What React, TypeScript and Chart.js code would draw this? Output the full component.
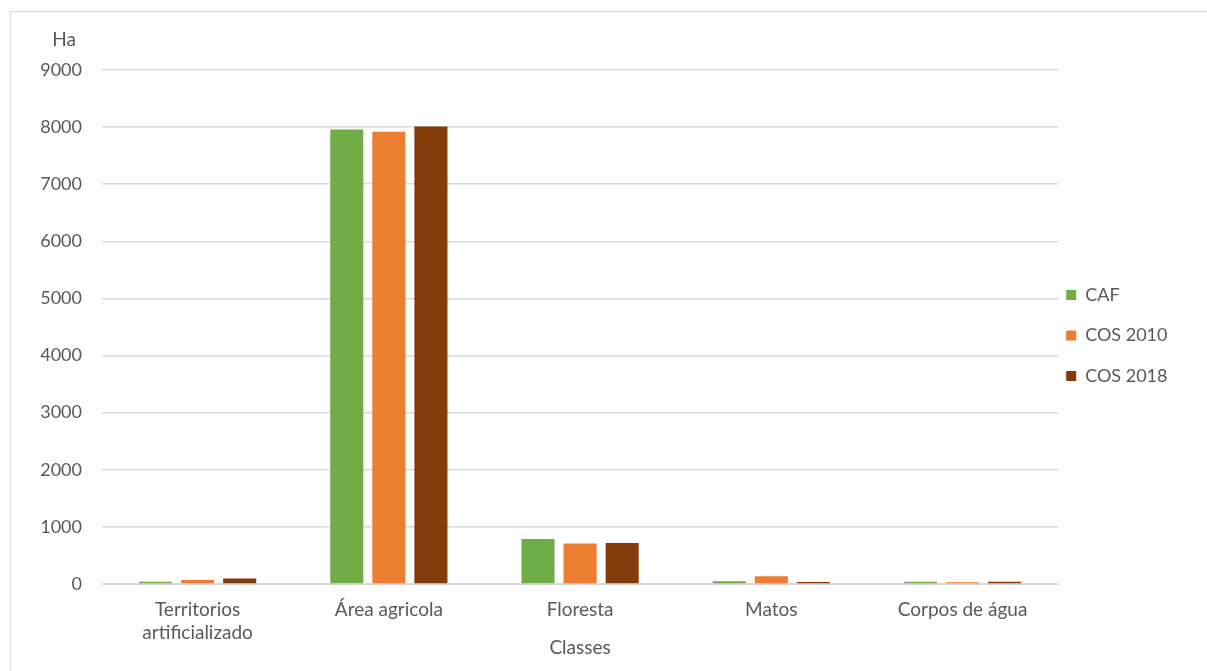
import React, { useEffect, useRef } from "react";
import { Chart, registerables } from "chart.js";

Chart.register(...registerables);

// Land-cover classes and areas (ha) by source
const categories: (string | string[])[] = [
  ["Territorios", "artificializado"],
  "Área agricola",
  "Floresta",
  "Matos",
  "Corpos de água",
];
const cafValues = [40, 7960, 790, 50, 40];
const cos2010Values = [70, 7920, 710, 135, 30];
const cos2018Values = [95, 8010, 720, 35, 40];
const seriesNames = ["CAF", "COS 2010", "COS 2018"];
const seriesColors = ["#70AD47", "#ED7D31", "#843C0C"];
const yTicks = [0, 1000, 2000, 3000, 4000, 5000, 6000, 7000, 8000, 9000];
const yUnit = "Ha";
const xTitle = "Classes";

const FONT = "Lato, 'Open Sans', sans-serif";
const FONT_SIZE = 18;
const LABEL_SIZE = 19;
const TEXT = "#595959";
const GRID = "#d9d9d9";
const LEGEND_PAD = 22.5;

// Writes the unit label above the value axis
const unitLabel = {
  id: "unitLabel",
  afterDraw(chart: any) {
    const y = chart.scales.y;
    const ctx = chart.ctx;
    ctx.save();
    ctx.font = `${LABEL_SIZE}px ${FONT}`;
    ctx.fillStyle = TEXT;
    ctx.textAlign = "center";
    ctx.textBaseline = "middle";
    ctx.fillText(yUnit, 54, y.getPixelForValue(yTicks[yTicks.length - 1]) - 30);
    ctx.restore();
  },
};

// Places the legend column close to the plot, a little above its middle
const legendPlacement = {
  id: "legendPlacement",
  afterLayout(chart: any) {
    const lg = chart.legend;
    if (!lg) return;
    const w = lg.width;
    const h = lg.height;
    lg.left = chart.chartArea.right + 8 - LEGEND_PAD;
    lg.right = lg.left + w;
    lg.top = 252.5;
    lg.bottom = lg.top + h;
  },
};

export default function App() {
  const canvasRef = useRef<HTMLCanvasElement | null>(null);

  useEffect(() => {
    if (!canvasRef.current) return;
    const font = { family: FONT, size: FONT_SIZE, lineHeight: 1.28 };
    const labelFont = { family: FONT, size: LABEL_SIZE, lineHeight: 23 / LABEL_SIZE };
    const chart = new Chart(canvasRef.current, {
      type: "bar",
      data: {
        labels: categories,
        datasets: [cafValues, cos2010Values, cos2018Values].map((d, i) => ({
          label: seriesNames[i],
          data: d,
          backgroundColor: seriesColors[i],
          borderWidth: 0,
          categoryPercentage: 0.66,
          barPercentage: 0.786,
        })),
      },
      options: {
        animation: false,
        responsive: false,
        maintainAspectRatio: false,
        layout: { padding: { top: 59, right: 15, bottom: 12, left: 0 } },
        plugins: {
          tooltip: { enabled: false },
          legend: {
            position: "right",
            align: "start",
            labels: {
              boxWidth: 10,
              boxHeight: 10,
              padding: LEGEND_PAD,
              color: TEXT,
              font,
            },
          },
        },
        scales: {
          x: {
            grid: { display: false, drawTicks: false },
            border: { color: GRID },
            ticks: {
              color: TEXT,
              font: labelFont,
              padding: 14.5,
              maxRotation: 0,
            },
            title: {
              display: true,
              text: xTitle,
              color: TEXT,
              font: labelFont,
              padding: { top: -23, bottom: 0 },
            },
          },
          y: {
            min: 0,
            max: 9000,
            afterBuildTicks: (scale: any) => {
              scale.ticks = yTicks.map((v) => ({ value: v }));
            },
            afterFit: (scale: any) => {
              scale.width = 92;
            },
            grid: { color: GRID, lineWidth: 1.5, drawTicks: false },
            border: { display: false },
            ticks: {
              color: TEXT,
              font,
              padding: 20,
              callback: (v: any) => String(v),
            },
          },
        },
      },
      plugins: [unitLabel, legendPlacement],
    });
    return () => chart.destroy();
  }, []);

  return (
    <div style={{ position: "fixed", left: 0, top: 0, width: 1207, height: 671, background: "#fff" }}>
      <div
        style={{
          position: "absolute",
          left: 10,
          top: 11,
          right: -5,
          bottom: -5,
          borderLeft: `1.5px solid ${GRID}`,
          borderTop: `1.5px solid ${GRID}`,
        }}
      />
      <canvas
        ref={canvasRef}
        width={1197}
        height={660}
        style={{ position: "absolute", left: 10, top: 11, width: 1197, height: 660 }}
      />
    </div>
  );
}
